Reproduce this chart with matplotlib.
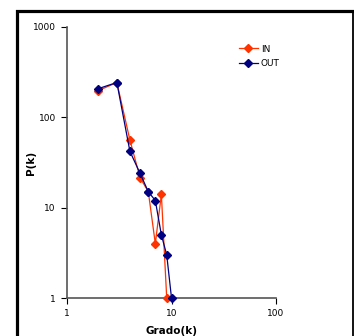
import matplotlib
matplotlib.use("Agg")
import matplotlib.pyplot as plt
from matplotlib.lines import Line2D
from matplotlib.ticker import FixedLocator, NullLocator

# grado k y P(k) para cada serie
k_in = [2, 3, 4, 5, 6, 7, 8, 9]
p_in = [198, 243, 56, 21.5, 15, 4, 14, 1]
k_out = [2, 3, 4, 5, 6, 7, 8, 9, 10]
p_out = [208, 243, 42, 24, 15, 12, 5, 3, 1]

x_ticks = [1, 10, 100]
y_ticks = [1, 10, 100, 1000]

W, H = 354, 336
fig = plt.figure(figsize=(W / 100, H / 100), dpi=100)
fig.patch.set_facecolor("white")

# marco exterior (izquierda y arriba mas gruesos)
fx0, fx1 = 16.5 / W, 352.5 / W
fy = 1 - 10.5 / H
fig.lines.append(Line2D([fx0, fx0, fx1], [-0.1, fy, fy], transform=fig.transFigure,
                        color="black", lw=2.3, solid_joinstyle="miter"))
fig.lines.append(Line2D([fx1, fx1], [-0.1, fy], transform=fig.transFigure,
                        color="black", lw=1.3))

ax = fig.add_axes([67 / W, 1 - 298 / H, (276 - 67) / W, (298 - 27) / H])
ax.set_xscale("log")
ax.set_yscale("log")
ax.set_xlim(1, 100)
ax.set_ylim(1, 1000)

ax.plot(k_in, p_in, color="#FF3300", lw=0.9, marker="D", ms=4.5,
        mfc="#FF3300", mec="#FF3300", label="IN", clip_on=False, zorder=3)
ax.plot(k_out, p_out, color="#000080", lw=0.9, marker="D", ms=4.5,
        mfc="#000080", mec="#000080", label="OUT", clip_on=False, zorder=4)

ax.xaxis.set_major_locator(FixedLocator(x_ticks))
ax.yaxis.set_major_locator(FixedLocator(y_ticks))
ax.xaxis.set_minor_locator(NullLocator())
ax.yaxis.set_minor_locator(NullLocator())
ax.set_xticklabels([str(v) for v in x_ticks])
ax.set_yticklabels([str(v) for v in y_ticks])
ax.tick_params(direction="out", length=4, width=0.8, labelsize=6.5,
               colors="black", pad=4)

for s in ["top", "right"]:
    ax.spines[s].set_visible(False)
for s in ["left", "bottom"]:
    ax.spines[s].set_color("#555555")
    ax.spines[s].set_linewidth(1.2)

ax.set_xlabel("Grado(k)", fontsize=7.5, fontweight="bold", labelpad=6)
ax.set_ylabel("P(k)", fontsize=7.5, fontweight="bold", labelpad=-2)

ax.legend(loc="upper left", bbox_to_anchor=(0.823, 0.935), frameon=False,
          borderpad=0, borderaxespad=0, fontsize=6.5, handlelength=2.1,
          handletextpad=0.3, labelspacing=0.6)

fig.savefig("out.png", dpi=100, facecolor="white")
